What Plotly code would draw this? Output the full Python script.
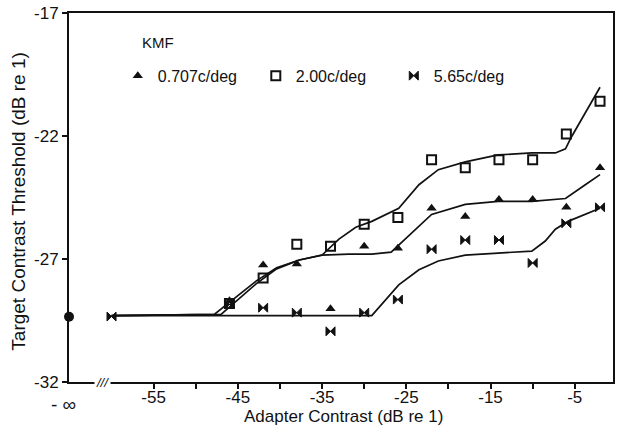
import plotly.graph_objects as go

# ---------------- data ----------------
adapter = [-46, -42, -38, -34, -30, -26, -22, -18, -14, -10, -6, -2]

thr_0707 = [-28.7, -27.24, -27.2, -29.02, -26.48, -26.56, -24.94, -25.27, -24.58, -24.58, -24.9, -23.29]
thr_200 = [-28.81, -27.77, -26.40, -26.48, -25.59, -25.31, -22.97, -23.29, -22.97, -22.97, -21.92, -20.59]
adapter_565 = [-60, -46, -42, -38, -34, -30, -26, -22, -18, -14, -10, -6, -2]
thr_565 = [-29.34, -28.85, -28.98, -29.18, -29.94, -29.18, -28.65, -26.6, -26.23, -26.23, -27.16, -25.55, -24.9]

baseline_inf = -29.35  # threshold at adapter contrast -infinity

# model curves
curve_200_x = [-60, -47.8, -42.8, -40.4, -37.7, -35.0, -33.0, -31.0, -29.1, -25.9, -23.5, -21.2, -18.0, -14.1, -10.1, -7.3, -6.1, -5.4, -2.0]
curve_200_y = [-29.3, -29.25, -27.89, -27.36, -27.04, -26.84, -26.19, -25.71, -25.47, -24.94, -23.98, -23.37, -23.05, -22.77, -22.69, -22.69, -22.52, -22.04, -20.02]

curve_0707_x = [-60, -47.0, -42.8, -40.4, -37.7, -35.0, -31.8, -29.1, -26.8, -25.1, -23.5, -22.0, -18.0, -14.1, -10.1, -6.1, -3.75, -2.0]
curve_0707_y = [-29.3, -29.25, -28.0, -27.4, -27.04, -26.84, -26.8, -26.8, -26.72, -26.19, -25.67, -25.19, -24.78, -24.66, -24.66, -24.54, -23.98, -23.57]

curve_565_x = [-60, -29.1, -25.9, -23.5, -21.2, -18.0, -14.1, -10.1, -8.5, -7.3, -5.8, -3.75, -2.0]
curve_565_y = [-29.3, -29.3, -28.05, -27.44, -27.08, -26.84, -26.76, -26.68, -26.27, -25.79, -25.47, -25.19, -24.94]

x_ticks = [-55, -45, -35, -25, -15, -5]
x_minor = [-50, -40, -30, -20, -10]
y_ticks = [-32, -27, -22, -17]
x_range = [-65.05, -0.46]
y_range = [-32, -17]

legend_names = ["0.707c/deg", "2.00c/deg", "5.65c/deg"]

FONT = "Liberation Sans, Arial, sans-serif"
BLACK = "#111111"

fig = go.Figure()

line_style = dict(color=BLACK, width=1.7)
for cx, cy in [(curve_200_x, curve_200_y), (curve_0707_x, curve_0707_y), (curve_565_x, curve_565_y)]:
    fig.add_trace(go.Scatter(x=cx, y=cy, mode="lines", line=line_style,
                             showlegend=False, hoverinfo="skip"))

fig.add_trace(go.Scatter(x=adapter, y=thr_0707, mode="markers", name=legend_names[0],
                         marker=dict(symbol="triangle-up", size=9, color=BLACK)))
fig.add_trace(go.Scatter(x=adapter, y=thr_200, mode="markers", name=legend_names[1],
                         marker=dict(symbol="square-open", size=9, color=BLACK,
                                     line=dict(width=2, color=BLACK))))
fig.add_trace(go.Scatter(x=adapter_565, y=thr_565, mode="markers", name=legend_names[2],
                         marker=dict(symbol="bowtie", size=9, color=BLACK,
                                     line=dict(width=1, color=BLACK))))

# point at adapter contrast = -infinity, on the y axis
fig.add_trace(go.Scatter(x=[x_range[0]], y=[baseline_inf], mode="markers",
                         marker=dict(symbol="circle", size=10, color=BLACK),
                         showlegend=False, cliponaxis=False))

fig.update_layout(
    width=619, height=435,
    margin=dict(l=69, r=4, t=10, b=53),
    paper_bgcolor="white", plot_bgcolor="white",
    font=dict(family=FONT, size=16, color=BLACK),
    showlegend=True,
    legend=dict(orientation="h", x=0.0897, xanchor="left", y=0.83, yanchor="middle",
                entrywidth=93, entrywidthmode="pixels",
                font=dict(family=FONT, size=16, color=BLACK),
                bgcolor="rgba(0,0,0,0)", itemclick=False),
    xaxis=dict(range=x_range, tickvals=x_ticks, ticktext=[str(v) for v in x_ticks],
               ticks="outside", ticklen=5, tickwidth=1.5, tickcolor=BLACK,
               ticklabelstandoff=-6,
               minor=dict(tickvals=x_minor, ticks="outside", ticklen=5, tickwidth=1.5, tickcolor=BLACK),
               showline=True, linecolor=BLACK, linewidth=1.8, mirror=True,
               showgrid=False, zeroline=False,
               tickfont=dict(family=FONT, size=17, color=BLACK)),
    yaxis=dict(range=y_range, tickvals=y_ticks, ticktext=[str(v) for v in y_ticks],
               ticks="outside", ticklen=5, tickwidth=1.5, tickcolor=BLACK,
               showline=True, linecolor=BLACK, linewidth=1.8, mirror=True,
               showgrid=False, zeroline=False,
               tickfont=dict(family=FONT, size=17, color=BLACK)),
)

annotations = [
    dict(text="KMF", xref="paper", yref="paper", x=(140 - 69) / 546, y=(382 - 40) / 372,
         xanchor="left", yanchor="middle", showarrow=False,
         font=dict(family=FONT, size=15, color=BLACK)),
    dict(text="Adapter Contrast (dB re 1)", xref="paper", yref="paper",
         x=(345 - 69) / 546, y=(382 - 417) / 372, xanchor="center", yanchor="middle",
         showarrow=False, font=dict(family=FONT, size=17, color=BLACK)),
    dict(text="Target Contrast Threshold (dB re 1)", xref="paper", yref="paper",
         x=(18 - 69) / 546, y=(382 - 200) / 372, xanchor="center", yanchor="middle",
         textangle=-90, showarrow=False, font=dict(family=FONT, size=19, color=BLACK)),
    dict(text="- ∞", xref="paper", yref="paper", x=(63 - 69) / 546, y=(382 - 405) / 372,
         xanchor="center", yanchor="middle", showarrow=False,
         font=dict(family=FONT, size=19, color=BLACK)),
    dict(text="<i>///</i>", xref="paper", yref="paper", x=(103 - 69) / 546, y=0,
         xanchor="center", yanchor="middle", showarrow=False, bgcolor="white",
         font=dict(family=FONT, size=13, color=BLACK)),
]
fig.update_layout(annotations=annotations)

fig.write_html("out.html")
